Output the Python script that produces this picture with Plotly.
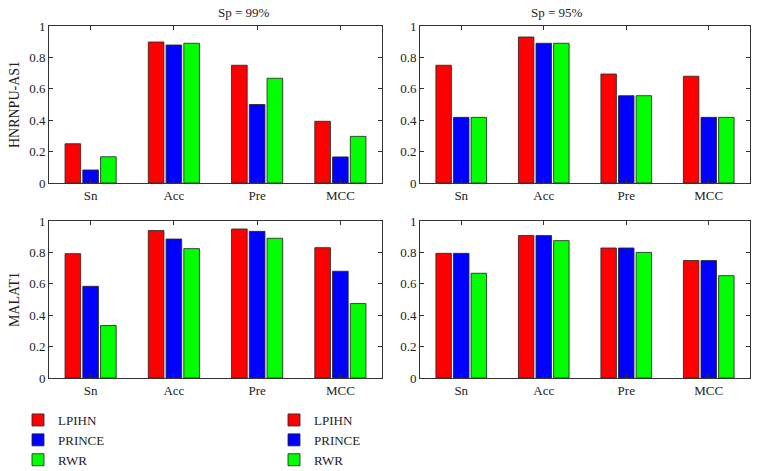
import plotly.graph_objects as go

categories = ["Sn", "Acc", "Pre", "MCC"]
methods = ["LPIHN", "PRINCE", "RWR"]
colors = ["#ff0000", "#0000ff", "#00ff00"]

# HNRNPU-AS1, Sp = 99%
h99_lpihn = [0.25, 0.898, 0.75, 0.393]
h99_prince = [0.083, 0.879, 0.50, 0.166]
h99_rwr = [0.167, 0.89, 0.667, 0.297]
# HNRNPU-AS1, Sp = 95%
h95_lpihn = [0.75, 0.93, 0.694, 0.68]
h95_prince = [0.418, 0.89, 0.556, 0.418]
h95_rwr = [0.418, 0.89, 0.556, 0.418]
# MALAT1, Sp = 99%
m99_lpihn = [0.792, 0.939, 0.949, 0.83]
m99_prince = [0.584, 0.885, 0.934, 0.68]
m99_rwr = [0.334, 0.824, 0.89, 0.474]
# MALAT1, Sp = 95%
m95_lpihn = [0.794, 0.907, 0.828, 0.748]
m95_prince = [0.794, 0.907, 0.828, 0.748]
m95_rwr = [0.667, 0.875, 0.80, 0.652]

yticks = [0, 0.2, 0.4, 0.6, 0.8, 1]
ytick_labels = ["0", "0.2", "0.4", "0.6", "0.8", "1"]

panels = [
    ("x", "y", [h99_lpihn, h99_prince, h99_rwr], "legend", True),
    ("x2", "y2", [h95_lpihn, h95_prince, h95_rwr], "legend2", True),
    ("x3", "y3", [m99_lpihn, m99_prince, m99_rwr], "legend", False),
    ("x4", "y4", [m95_lpihn, m95_prince, m95_rwr], "legend2", False),
]

FONT = "Liberation Serif, Times New Roman, serif"
fig = go.Figure()
for xa, ya, series, leg, show in panels:
    for name, vals, col in zip(methods, series, colors):
        fig.add_trace(go.Bar(
            x=categories, y=vals, name=name, xaxis=xa, yaxis=ya,
            marker=dict(color=col, line=dict(color="rgba(40,40,40,0.85)", width=1)),
            legend=leg, showlegend=show,
        ))

W, H = 759, 471
def xd(a, b):
    return [a / W, b / W]
def yd(top, bottom):
    return [1 - bottom / H, 1 - top / H]

axis_common = dict(
    showline=True, linecolor="#333333", linewidth=1, mirror="ticks",
    ticks="inside", ticklen=4, tickcolor="#333333", showgrid=False,
    zeroline=False, automargin=False,
    tickfont=dict(family=FONT, size=13, color="#222222"),
)
xdoms = {"x": xd(49, 382), "x2": xd(420, 750), "x3": xd(49, 382), "x4": xd(420, 750)}
ydoms = {"y": yd(26, 183), "y2": yd(26, 183), "y3": yd(221, 378), "y4": yd(221, 378)}

layout = dict(
    width=W, height=H, margin=dict(l=0, r=0, t=0, b=0, autoexpand=False),
    paper_bgcolor="white", plot_bgcolor="white",
    barmode="group", bargap=0.36, bargroupgap=0.12,
    font=dict(family=FONT, size=13, color="#222222"),
)
for xa, ya in [("x", "y"), ("x2", "y2"), ("x3", "y3"), ("x4", "y4")]:
    xkey = "xaxis" if xa == "x" else "xaxis" + xa[1:]
    ykey = "yaxis" if ya == "y" else "yaxis" + ya[1:]
    layout[xkey] = dict(axis_common, domain=xdoms[xa], anchor=ya,
                        range=[-0.5, 3.5], type="category")
    layout[ykey] = dict(axis_common, domain=ydoms[ya], anchor=xa,
                        range=[0, 1], tickvals=yticks, ticktext=ytick_labels)

layout["yaxis"]["title"] = dict(text="HNRNPU-AS1", font=dict(family=FONT, size=14), standoff=6)
layout["yaxis3"]["title"] = dict(text="MALAT1", font=dict(family=FONT, size=14), standoff=6)

legend_common = dict(
    font=dict(family=FONT, size=13, color="#222222"),
    bgcolor="rgba(0,0,0,0)", tracegroupgap=0, itemclick=False,
    xanchor="left", yanchor="top", orientation="v",
)
layout["legend"] = dict(legend_common, x=18 / W, y=1 - 405 / H)
layout["legend2"] = dict(legend_common, x=274 / W, y=1 - 405 / H)

layout["annotations"] = [
    dict(text="Sp = 99%", x=(49 + 382) / 2 / W, y=1 - 13 / H, xref="paper", yref="paper",
         yanchor="middle", showarrow=False, font=dict(family=FONT, size=13, color="#222222")),
    dict(text="Sp = 95%", x=(420 + 750) / 2 / W, y=1 - 13 / H, xref="paper", yref="paper",
         yanchor="middle", showarrow=False, font=dict(family=FONT, size=13, color="#222222")),
]

fig.update_layout(**layout)
fig.write_html(
    "out.html",
    config={"displayModeBar": False},
    post_script="document.body.style.margin='0';document.body.style.overflow='hidden';",
)
